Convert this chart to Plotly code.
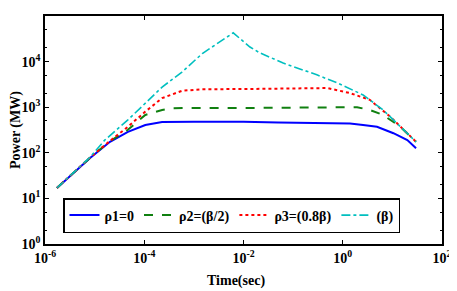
import plotly.graph_objects as go

# Data (time in s, power in MW)
t_rho1 = [1.74e-6, 8.1e-6, 2.04e-5, 4.68e-5, 1.05e-4, 2.29e-4, 1e-3, 1e-2, 5e-2, 0.56, 1.4, 2.57, 4.9, 10.5, 20, 30]
p_rho1 = [17, 77, 174, 288, 407, 473, 478, 478, 460, 450, 437, 407, 372, 269, 190, 126]

t_rho2 = [1.74e-6, 8.1e-6, 2.04e-5, 4.68e-5, 1.05e-4, 2.29e-4, 3.63e-4, 6e-4, 1e-2, 0.22, 1.95, 3.5, 6.5, 14.5, 30]
p_rho2 = [17, 78, 180, 320, 676, 870, 950, 960, 960, 1000, 1000, 870, 676, 372, 174]

t_rho3 = [1.74e-6, 8.1e-6, 2.04e-5, 4.68e-5, 1.05e-4, 2.29e-4, 5.75e-4, 1.48e-3, 1e-2, 0.49, 1.4, 3.5, 9.1, 30]
p_rho3 = [17, 79, 182, 372, 800, 1580, 2290, 2480, 2500, 2630, 2040, 1450, 617, 174]

t_beta = [1.74e-6, 8.1e-6, 1.6e-5, 4.68e-5, 2.29e-4, 5.75e-4, 1.48e-3, 6.2e-3, 1.35e-2, 2.14e-2, 6.3e-2, 0.3, 0.78, 2.57, 6.5, 16.6, 30]
p_beta = [17, 80, 190, 525, 2760, 5900, 15000, 42700, 20900, 15500, 9300, 5130, 3390, 1860, 870, 316, 174]

x_tickvals = [1e-6, 1e-4, 1e-2, 1, 100]
x_ticktext = ["10<sup>-6</sup>", "10<sup>-4</sup>", "10<sup>-2</sup>", "10<sup>0</sup>", "10<sup>2</sup>"]
y_tickvals = [1, 10, 100, 1e3, 1e4, 1e5]
y_ticktext = ["10<sup>0</sup>", "10<sup>1</sup>", "10<sup>2</sup>", "10<sup>3</sup>", "10<sup>4</sup>", "10<sup>5</sup>"]

names = ["ρ1=0", "ρ2=(β/2)", "ρ3=(0.8β)", "(β)"]
x_title = "Time(sec)"
y_title = "Power (MW)"

fig = go.Figure()
fig.add_trace(go.Scatter(x=t_rho1, y=p_rho1, mode="lines", name=names[0],
                         line=dict(color="#0000FF", width=2, dash="solid")))
fig.add_trace(go.Scatter(x=t_rho2, y=p_rho2, mode="lines", name=names[1],
                         line=dict(color="#108010", width=2, dash="dash")))
fig.add_trace(go.Scatter(x=t_rho3, y=p_rho3, mode="lines", name=names[2],
                         line=dict(color="#FF0000", width=2, dash="dot")))
fig.add_trace(go.Scatter(x=t_beta, y=p_beta, mode="lines", name=names[3],
                         line=dict(color="#00BFBF", width=1.6, dash="dashdot")))

font_family = "Liberation Serif"
OFF = 8  # default page body margin
W, H = 457 - OFF, 291 - OFF
ml, mt = 45 - OFF, 16 - OFF
mr, mb = 15, 47
pw, ph = W - ml - mr, H - mt - mb

def px_x(x):  # window pixel -> paper x
    return (x - OFF - ml) / pw

def px_y(y):  # window pixel -> paper y
    return (mt + ph - (y - OFF)) / ph

fig.update_layout(
    width=W, height=H,
    margin=dict(l=ml, r=mr, t=mt, b=mb),
    paper_bgcolor="white", plot_bgcolor="white",
    font=dict(family=font_family, size=14, color="black"),
    showlegend=True,
    legend=dict(orientation="h", x=px_x(63), y=px_y(198), xanchor="left", yanchor="top",
                bordercolor="black", borderwidth=1.5, bgcolor="white",
                font=dict(family=font_family, size=14, color="black", weight="bold"),
                itemwidth=30, tracegroupgap=0),
)
fig.update_xaxes(
    type="log", range=[-6, 2], automargin=False,
    tickvals=x_tickvals, ticktext=x_ticktext,
    ticks="inside", ticklen=4, tickcolor="black",
    showline=True, linecolor="black", linewidth=1.5, mirror="allticks",
    showgrid=False, zeroline=False,
    tickfont=dict(family=font_family, size=14, color="black", weight="bold"),
)
fig.update_yaxes(
    type="log", range=[0, 5], automargin=False,
    tickvals=y_tickvals, ticktext=y_ticktext,
    ticks="inside", ticklen=4, tickcolor="black",
    minor=dict(ticks="inside", ticklen=2, tickcolor="black", showgrid=False),
    showline=True, linecolor="black", linewidth=1.5, mirror="allticks",
    showgrid=False, zeroline=False,
    tickfont=dict(family=font_family, size=14, color="black", weight="bold"),
)
fig.add_annotation(text=x_title, xref="paper", yref="paper",
                   x=px_x(236), y=px_y(281),
                   xanchor="center", yanchor="middle", showarrow=False,
                   font=dict(family=font_family, size=14, color="black", weight="bold"))
fig.add_annotation(text=y_title, xref="paper", yref="paper", textangle=-90,
                   x=px_x(16), y=px_y(130),
                   xanchor="center", yanchor="middle", showarrow=False,
                   font=dict(family=font_family, size=14, color="black", weight="bold"))

fig.write_html("out.html")
